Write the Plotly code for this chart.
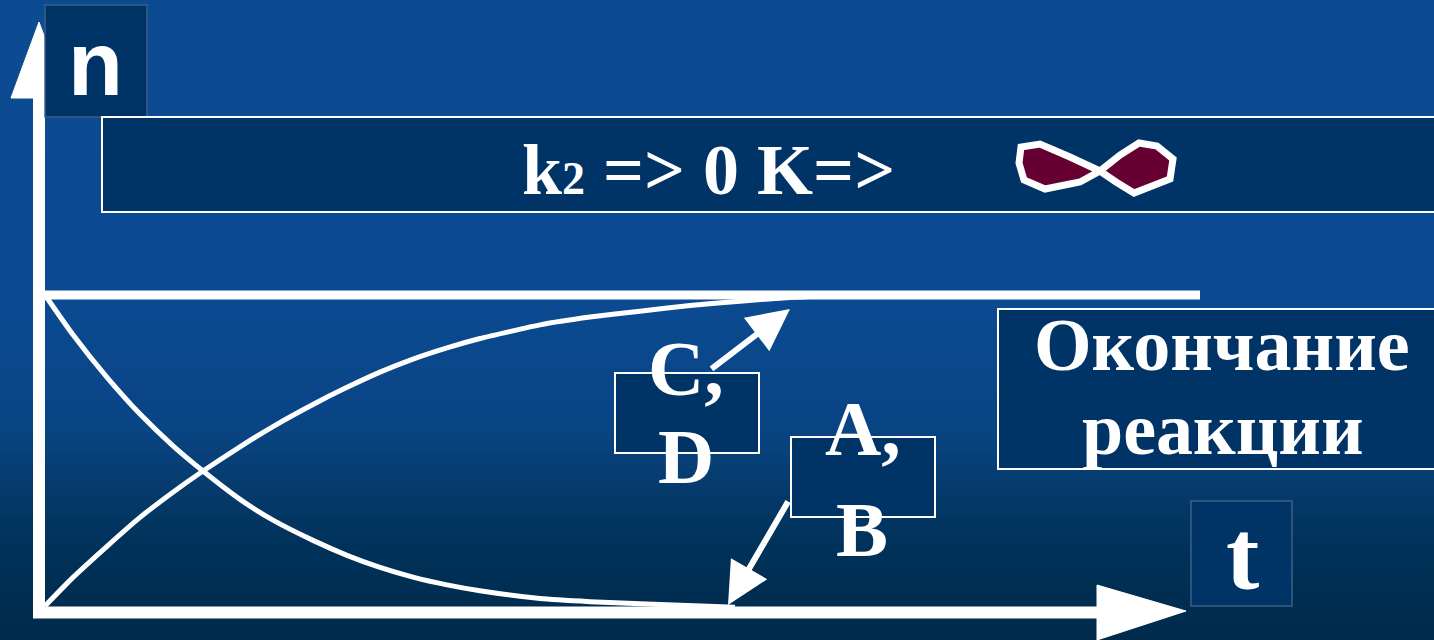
import plotly.graph_objects as go

W, H = 1434, 640

# curve readings, t in arbitrary units, n as fraction of final amount
t_ab = [0.0, 0.28, 0.62, 0.95, 1.28, 1.58, 1.95, 2.28, 2.68, 3.02, 3.35, 3.68, 4.02,
        4.35, 4.95, 5.45, 5.95, 6.9]
n_ab = [1.0, 0.872, 0.735, 0.617, 0.515, 0.434, 0.343, 0.276, 0.211, 0.163, 0.124, 0.093,
        0.068, 0.049, 0.024, 0.014, 0.007, -0.004]

t_cd = [0.0, 0.28, 0.62, 0.95, 1.28, 1.58, 1.95, 2.28, 2.68, 3.02, 3.35, 3.68, 4.02,
        4.35, 4.95, 5.45, 5.95, 6.45, 6.95, 7.45, 8.05]
n_cd = [0.0, 0.092, 0.192, 0.285, 0.366, 0.434, 0.512, 0.577, 0.648, 0.703, 0.752, 0.794,
        0.830, 0.860, 0.904, 0.929, 0.948, 0.966, 0.980, 0.992, 1.0]

t_end = [0.0, 11.55]
n_end = [1.0, 1.0]

title_text = "k<span style='font-size:46px'>2</span> => 0 K=>"
end_lines = ["Окончание", "реакции"]
label_cd = ["C,", "D"]
label_ab = ["A,", "B"]

# background gradient stops (pixel rows from top) and colours
bg_rows = [-20, 0, 300, 430, 490, 545, 640, 660]
bg_cols = ["#0c4a92", "#0c4a92", "#0b4a92", "#094483", "#053a6b", "#00325a", "#002a4a", "#002a4a"]

NAVY = "#003366"


# pixel helpers for layout pieces
def tx(x):
    return (x - 45) / 100


def ny(y):
    return (606 - y) / 311


def px(x):
    return x / W


def py(y):
    return 1 - y / H


fig = go.Figure()

# background
n_rows = len(bg_rows)
fig.add_trace(go.Heatmap(
    x=[tx(-20), tx(W + 20)],
    y=[ny(r) for r in bg_rows],
    z=[[i, i] for i in range(n_rows)],
    colorscale=[[i / (n_rows - 1), c] for i, c in enumerate(bg_cols)],
    zsmooth="best", showscale=False, hoverinfo="skip"))

# axes: lines and arrow heads
fig.add_trace(go.Scatter(x=[tx(39), tx(39)], y=[ny(618), ny(96)], mode="lines",
                         line=dict(color="white", width=12), hoverinfo="skip"))
fig.add_trace(go.Scatter(x=[tx(11), tx(39), tx(67), tx(11)],
                         y=[ny(98), ny(22), ny(98), ny(98)],
                         mode="lines", fill="toself", fillcolor="white",
                         line=dict(color="white", width=1), hoverinfo="skip"))
fig.add_trace(go.Scatter(x=[tx(33), tx(1100)], y=[ny(612.5), ny(612.5)], mode="lines",
                         line=dict(color="white", width=12), hoverinfo="skip"))
fig.add_trace(go.Scatter(x=[tx(1097), tx(1186), tx(1097), tx(1097)],
                         y=[ny(585), ny(611), ny(640), ny(585)],
                         mode="lines", fill="toself", fillcolor="white",
                         line=dict(color="white", width=1), hoverinfo="skip"))

# final level
fig.add_trace(go.Scatter(x=t_end, y=n_end, mode="lines",
                         line=dict(color="white", width=9), hoverinfo="skip"))
# curves
for tt, nn in [(t_ab, n_ab), (t_cd, n_cd)]:
    fig.add_trace(go.Scatter(x=tt, y=nn, mode="lines",
                             line=dict(color="white", width=5, shape="spline", smoothing=0.5),
                             hoverinfo="skip"))

shapes = []


def box(x0, y0, x1, y1, lc="white", lw=2):
    shapes.append(dict(type="rect", xref="paper", yref="paper",
                       x0=px(x0), x1=px(x1), y0=py(y1), y1=py(y0),
                       fillcolor=NAVY, line=dict(color=lc, width=lw), layer="above"))


box(45, 5, 147, 117, lc="#3d5f88", lw=1.5)
box(102, 117, 1450, 212)
box(998, 309, 1450, 469)
box(615, 373, 759, 453)
box(791, 437, 935, 517)
box(1191, 501, 1292, 606, lc="#3d5f88", lw=1.5)

# infinity sign
inf_pts = [(1100, 171), (1070, 157), (1040, 144), (1021, 147), (1019, 163), (1024, 180),
           (1045, 189), (1080, 182), (1100, 171), (1116, 182), (1134, 193), (1170, 179),
           (1173, 159), (1157, 146), (1139, 143), (1120, 155)]
path = "M " + " L ".join(f"{px(a):.5f},{py(b):.5f}" for a, b in inf_pts) + " Z"
shapes.append(dict(type="path", xref="paper", yref="paper", path=path,
                   fillcolor="#660033", line=dict(color="white", width=7), layer="above"))

annotations = []


def label(text, x, y, size, family="Liberation Serif"):
    annotations.append(dict(text=text, xref="paper", yref="paper", x=px(x), y=py(y),
                            xanchor="center", yanchor="middle", showarrow=False,
                            font=dict(family=family, size=size, color="white", weight="bold")))


label("n", 96, 64, 90, family="Liberation Sans")
label(title_text, 708, 170, 72)
label(end_lines[0], 1222, 345, 74)
label(end_lines[1], 1223, 429, 74)
label(label_cd[0], 686, 368, 78)
label(label_cd[1], 686, 456, 78)
label(label_ab[0], 863, 428, 78)
label(label_ab[1], 862, 529, 78)
label("t", 1242, 555, 100)

# pointer arrows
for tip, tail in [((790, 309), (710, 370)), ((728, 605), (789, 500))]:
    annotations.append(dict(text="", xref="paper", yref="paper", x=px(tip[0]), y=py(tip[1]),
                            ax=tail[0] - tip[0], ay=tail[1] - tip[1], showarrow=True,
                            arrowhead=2, arrowsize=1.4, arrowwidth=6, arrowcolor="white",
                            standoff=0))

fig.update_layout(
    width=W, height=H,
    margin=dict(l=0, r=0, t=0, b=0, pad=0),
    paper_bgcolor="#0b4a92", plot_bgcolor="#0b4a92",
    showlegend=False,
    xaxis=dict(visible=False, range=[tx(0), tx(W)], fixedrange=True),
    yaxis=dict(visible=False, range=[ny(H), ny(0)], fixedrange=True),
    shapes=shapes, annotations=annotations,
)

fig.write_html("out.html", config={"displayModeBar": False},
               post_script="document.body.style.margin='0';document.body.style.overflow='hidden';")
